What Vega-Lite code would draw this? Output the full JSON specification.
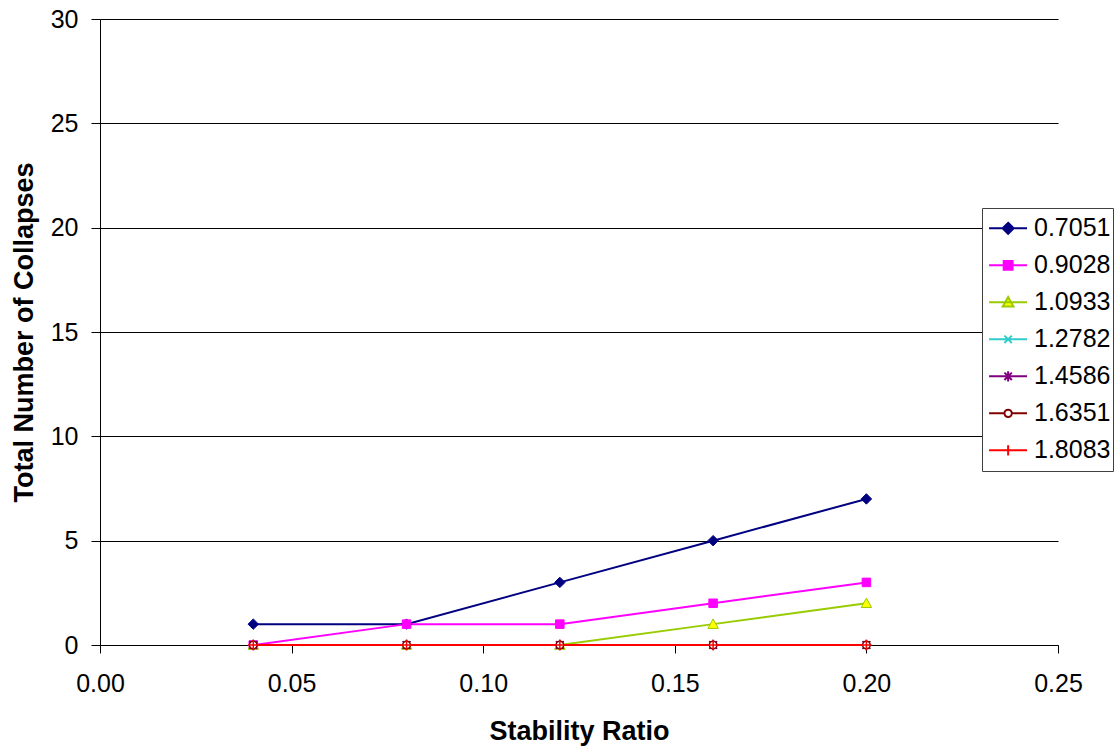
{
  "$schema": "https://vega.github.io/schema/vega-lite/v6.json",
  "width": 958,
  "height": 626,
  "autosize": "none",
  "padding": {"left": 100, "top": 19, "right": 61, "bottom": 103},
  "background": "white",
  "config": {
    "view": {"stroke": null},
    "font": "Liberation Sans"
  },
  "data": {
    "values": [
      {"series": "0.7051", "ratio": 0.04, "collapses": 1},
      {"series": "0.7051", "ratio": 0.08, "collapses": 1},
      {"series": "0.7051", "ratio": 0.12, "collapses": 3},
      {"series": "0.7051", "ratio": 0.16, "collapses": 5},
      {"series": "0.7051", "ratio": 0.20, "collapses": 7},
      {"series": "0.9028", "ratio": 0.04, "collapses": 0},
      {"series": "0.9028", "ratio": 0.08, "collapses": 1},
      {"series": "0.9028", "ratio": 0.12, "collapses": 1},
      {"series": "0.9028", "ratio": 0.16, "collapses": 2},
      {"series": "0.9028", "ratio": 0.20, "collapses": 3},
      {"series": "1.0933", "ratio": 0.04, "collapses": 0},
      {"series": "1.0933", "ratio": 0.08, "collapses": 0},
      {"series": "1.0933", "ratio": 0.12, "collapses": 0},
      {"series": "1.0933", "ratio": 0.16, "collapses": 1},
      {"series": "1.0933", "ratio": 0.20, "collapses": 2},
      {"series": "1.2782", "ratio": 0.04, "collapses": 0},
      {"series": "1.2782", "ratio": 0.08, "collapses": 0},
      {"series": "1.2782", "ratio": 0.12, "collapses": 0},
      {"series": "1.2782", "ratio": 0.16, "collapses": 0},
      {"series": "1.2782", "ratio": 0.20, "collapses": 0},
      {"series": "1.4586", "ratio": 0.04, "collapses": 0},
      {"series": "1.4586", "ratio": 0.08, "collapses": 0},
      {"series": "1.4586", "ratio": 0.12, "collapses": 0},
      {"series": "1.4586", "ratio": 0.16, "collapses": 0},
      {"series": "1.4586", "ratio": 0.20, "collapses": 0},
      {"series": "1.6351", "ratio": 0.04, "collapses": 0},
      {"series": "1.6351", "ratio": 0.08, "collapses": 0},
      {"series": "1.6351", "ratio": 0.12, "collapses": 0},
      {"series": "1.6351", "ratio": 0.16, "collapses": 0},
      {"series": "1.6351", "ratio": 0.20, "collapses": 0},
      {"series": "1.8083", "ratio": 0.04, "collapses": 0},
      {"series": "1.8083", "ratio": 0.08, "collapses": 0},
      {"series": "1.8083", "ratio": 0.12, "collapses": 0},
      {"series": "1.8083", "ratio": 0.16, "collapses": 0},
      {"series": "1.8083", "ratio": 0.20, "collapses": 0}
    ]
  },
  "encoding": {
    "x": {
      "field": "ratio", "type": "quantitative",
      "scale": {"domain": [0, 0.25], "nice": false, "zero": false},
      "axis": {
        "title": "Stability Ratio",
        "values": [0, 0.05, 0.1, 0.15, 0.2, 0.25],
        "format": ".2f",
        "grid": false,
        "labelFlush": false,
        "domainColor": "#000000",
        "domainWidth": 1,
        "tickColor": "#000000",
        "tickSize": 8,
        "labelFontSize": 25,
        "labelColor": "#000000",
        "labelPadding": 18,
        "titleFontSize": 27,
        "titleFontWeight": "bold",
        "titleColor": "#000000",
        "titlePadding": 22
      }
    },
    "y": {
      "field": "collapses", "type": "quantitative",
      "scale": {"domain": [0, 30], "nice": false},
      "axis": {
        "title": "Total Number of Collapses",
        "values": [0, 5, 10, 15, 20, 25, 30],
        "grid": true,
        "labelFlush": false,
        "gridColor": "#000000",
        "gridWidth": 1,
        "gridOpacity": 1,
        "domainColor": "#000000",
        "domainWidth": 1,
        "tickColor": "#000000",
        "tickSize": 9,
        "labelFontSize": 25,
        "labelColor": "#000000",
        "labelPadding": 13,
        "titleFontSize": 27,
        "titleFontWeight": "bold",
        "titleColor": "#000000",
        "titlePadding": 12
      }
    }
  },
  "layer": [
    {
      "mark": {"type": "line", "strokeWidth": 2},
      "encoding": {
        "color": {
          "field": "series", "type": "nominal",
          "scale": {
            "domain": ["0.7051", "0.9028", "1.0933", "1.2782", "1.4586", "1.6351", "1.8083"],
            "range": ["#000080", "#FF00FF", "#99CC00", "#33CCCC", "#800080", "#800000", "#FF0000"]
          },
          "legend": {
            "title": null,
            "orient": "none",
            "legendX": 882,
            "legendY": 189,
            "symbolSize": 1369,
            "symbolStrokeWidth": 2,
            "clipHeight": 36.7,
            "rowPadding": 0,
            "labelFontSize": 25,
            "labelColor": "#000000",
            "labelOffset": 11,
            "padding": 2,
            "strokeColor": "#404040",
            "fillColor": "#FFFFFF",
            "encode": {
              "symbols": {
                "update": {
                  "shape": {"signal": "['M-0.78,0H1.27M0.25,-0.3L0.55,0L0.25,0.3L-0.05,0Z','M-0.78,0H1.27M0.01,-0.24H0.49V0.24H0.01Z','M-0.78,0H1.27M0.25,-0.29L0.54,0.23H-0.04Z','M-0.78,0H1.27M0.05,-0.2L0.45,0.2M0.05,0.2L0.45,-0.2','M-0.78,0H1.27M0.05,-0.2L0.45,0.2M0.05,0.2L0.45,-0.2M0.25,-0.28V0.28','M-0.78,0H0.05M0.45,0H1.27M0.45,0A0.2,0.2,0,1,1,0.05,0A0.2,0.2,0,1,1,0.45,0Z','M-0.78,0H1.27M0.25,-0.28V0.28'][indexof(['0.7051','0.9028','1.0933','1.2782','1.4586','1.6351','1.8083'], datum.value)]"},
                  "fill": {"signal": "['#000080','#FF00FF','#FFFF00','transparent','transparent','#FFFFFF','transparent'][indexof(['0.7051','0.9028','1.0933','1.2782','1.4586','1.6351','1.8083'], datum.value)]"},
                  "strokeWidth": {"value": 2}
                }
              }
            }
          }
        }
      }
    },
    {
      "transform": [{"filter": "datum.series === '0.7051'"}],
      "mark": {"type": "point", "shape": "M0,-1.1L1.1,0L0,1.1L-1.1,0Z", "size": 90, "filled": true, "fill": "#000080", "stroke": "#000080", "strokeWidth": 1, "opacity": 1}
    },
    {
      "transform": [{"filter": "datum.series === '0.9028'"}],
      "mark": {"type": "point", "shape": "M-0.9,-0.9H0.9V0.9H-0.9Z", "size": 90, "filled": true, "fill": "#FF00FF", "stroke": "#FF00FF", "strokeWidth": 1, "opacity": 1}
    },
    {
      "transform": [{"filter": "datum.series === '1.0933'"}],
      "mark": {"type": "point", "shape": "M0,-1.1L1.1,0.9H-1.1Z", "size": 90, "filled": true, "fill": "#FFFF00", "stroke": "#99CC00", "strokeWidth": 1, "opacity": 1}
    },
    {
      "transform": [{"filter": "datum.series === '1.2782'"}],
      "mark": {"type": "point", "shape": "M-0.8,-0.8L0.8,0.8M-0.8,0.8L0.8,-0.8", "size": 90, "filled": false, "stroke": "#000000", "strokeWidth": 1.5, "opacity": 1}
    },
    {
      "transform": [{"filter": "datum.series === '1.4586'"}],
      "mark": {"type": "point", "shape": "M-0.8,-0.8L0.8,0.8M-0.8,0.8L0.8,-0.8M0,-1.1V1.1", "size": 90, "filled": false, "stroke": "#800080", "strokeWidth": 1.5, "opacity": 1}
    },
    {
      "transform": [{"filter": "datum.series === '1.6351'"}],
      "mark": {"type": "point", "shape": "M0.8,0A0.8,0.8,0,1,1,-0.8,0A0.8,0.8,0,1,1,0.8,0Z", "size": 90, "filled": true, "fill": "#FFFFFF", "stroke": "#800000", "strokeWidth": 1.5, "opacity": 1}
    },
    {
      "transform": [{"filter": "datum.series === '1.8083'"}],
      "mark": {"type": "point", "shape": "M-1.1,0H1.1M0,-1.1V1.1", "size": 90, "filled": false, "stroke": "#FF0000", "strokeWidth": 1.5, "opacity": 1}
    }
  ]
}
